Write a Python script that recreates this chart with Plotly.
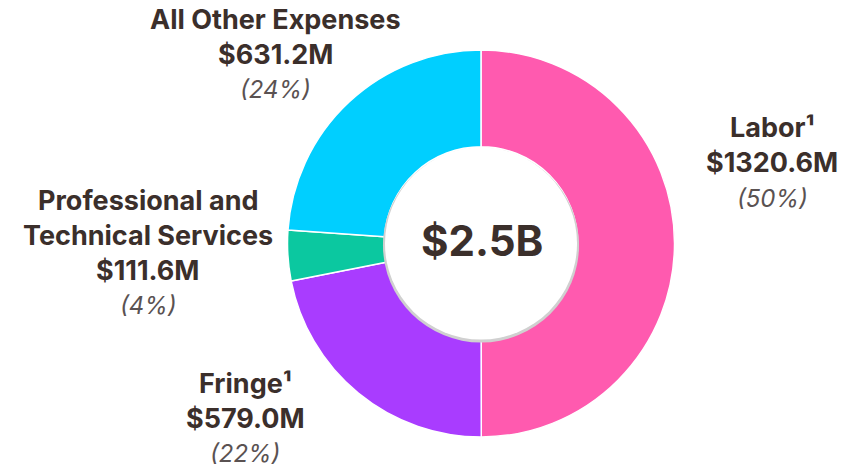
import plotly.graph_objects as go

# data
categories = ["Labor¹", "Fringe¹", "Professional and<br>Technical Services", "All Other Expenses"]
values = [1320.6, 579.0, 111.6, 631.2]
colors = ["#FF5AAF", "#A93CFF", "#0BC8A0", "#00CFFF"]
total_label = "$2.5B"

W, H = 841, 471
CX, CY, R = 481, 243.5, 193.5   # donut centre / radius in pixels
HOLE_R = 96

TEXT = "#3B2F2B"
GREY = "#5A5252"
FONT = "Inter"

# label anchor (centre x, first-line y) in pixels, one per category
label_pos = [(772, 128), (245, 383), (148, 200), (275, 20)]


def px(x):
    return x / W


def py(y):
    return 1 - y / H


fig = go.Figure()

fig.add_trace(go.Pie(
    labels=categories,
    values=values,
    sort=False,
    direction="clockwise",
    rotation=0,
    hole=0.5,
    textinfo="none",
    hoverinfo="label+value+percent",
    marker=dict(colors=colors, line=dict(color="white", width=1.5)),
    domain=dict(x=[px(CX - R), px(CX + R)], y=[py(CY + R), py(CY - R)]),
    showlegend=False,
))

# inner white circle with a soft shadow
fig.add_shape(type="circle", xref="paper", yref="paper", layer="above",
              x0=px(CX - HOLE_R - 2), x1=px(CX + HOLE_R + 2),
              y0=py(CY + HOLE_R + 3), y1=py(CY - HOLE_R + 0.5),
              fillcolor="#D0D0D0", line=dict(width=0))
fig.add_shape(type="circle", xref="paper", yref="paper", layer="above",
              x0=px(CX - HOLE_R), x1=px(CX + HOLE_R),
              y0=py(CY + HOLE_R), y1=py(CY - HOLE_R),
              fillcolor="white", line=dict(width=0))

fig.add_annotation(x=px(CX + 1), y=py(CY - 3), xref="paper", yref="paper",
                   text=total_label, showarrow=False, xanchor="center", yanchor="middle",
                   font=dict(family=FONT, size=42, color=TEXT, weight="bold"))

total = sum(values)
LINE = 35
for cat, v, (lx, ly) in zip(categories, values, label_pos):
    lines = cat.split("<br>")
    rows = [(t, "bold") for t in lines]
    rows.append((f"${v:.1f}M", "bold"))
    rows.append((f"({round(v / total * 100)}%)", "pct"))
    for i, (t, kind) in enumerate(rows):
        if kind == "pct":
            f = dict(family=FONT, size=24, color=GREY, style="italic")
        else:
            f = dict(family=FONT, size=27, color=TEXT, weight="bold")
        fig.add_annotation(x=px(lx), y=py(ly + i * LINE), xref="paper", yref="paper",
                           text=t, showarrow=False, xanchor="center", yanchor="middle",
                           font=f)

fig.update_layout(
    width=W, height=H,
    margin=dict(l=0, r=0, t=0, b=0),
    paper_bgcolor="white",
    plot_bgcolor="white",
)

# drop the default page margin so the figure sits at the window's corner
fig.write_html("out.html", config=dict(displayModeBar=False),
               post_script="document.body.style.margin='0';")
